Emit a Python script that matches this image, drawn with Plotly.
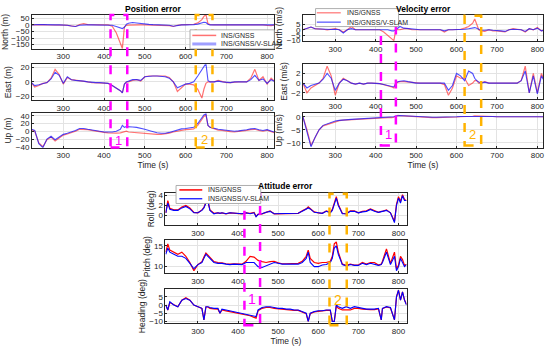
import plotly.graph_objects as go

# ---------------- data ----------------
t = [220, 230, 240, 250, 260, 270, 280, 290, 300, 310,
     320, 330, 340, 350, 360, 370, 380, 390, 400, 410,
     420, 430, 440, 445, 450, 455, 460, 470, 480, 490,
     500, 510, 520, 530, 540, 550, 560, 570, 580, 590,
     600, 610, 620, 630, 640, 645, 650, 655, 660, 670,
     680, 690, 700, 710, 720, 730, 740, 750, 760, 770,
     780, 790, 800, 810, 820]

pos_north_ins = [0, 2, 3, 2, 0, 0, 3, 0, -2, -3,
                 -5, -12, 3, 10, 2, 0, 0, 0, 0, 0,
                 -10, -60, -140, -180, -15, -3, -2, 0, 0, 0,
                 0, 0, 0, 0, 0, 0, -5, -12, -3, 0,
                 0, 2, 5, 15, 40, 65, 78, 10, 2, 0,
                 0, 0, 0, 2, 0, 0, 0, 3, 5, 0,
                 0, 0, -3, -5, 0]
pos_north_slam = [0, 3, 3, 2, 0, 0, 0, 0, 0, -3,
                  -8, -12, -3, 0, 0, 0, 0, 0, 0, 0,
                  -3, -12, -22, -28, -18, 5, 12, 18, 15, 10,
                  6, 4, 2, 0, 0, 0, -3, -10, -3, 0,
                  0, 0, 2, 6, 14, 20, 18, 5, 0, 0,
                  0, 0, 0, 0, 0, 0, 0, 0, 0, 0,
                  0, 0, 0, 0, 0]
pos_east_ins = [0, -7, -5, -2, -1, 5, 17, 10, -3, 6,
                3, 2, 2, 1, 0, -1, -1, -1, -1, -2,
                -5, -8, -12, -15, -3, 0, 0, 2, 3, 1,
                7, 8, 8, 8, 8, 8, 6, 0, -13, -8,
                -3, -3, -4, -10, -22, -10, -2, 0, 0, 0,
                2, 0, -1, -1, 0, 0, 0, 0, 5, 17,
                2, 7, -3, 5, 0]
pos_east_slam = [0, -5, -4, -2, -1, 4, 13, 9, -2, 7,
                 3, 2, 2, 1, 0, -1, -1, -1, -1, -2,
                 -5, -8, -12, -15, -3, 0, 1, 3, 3, 2,
                 7, 8, 8, 8, 8, 7, 5, 0, -8, -5,
                 -3, -2, 0, 8, 17, 22, 25, 2, 0, 0,
                 1, 0, -1, -1, 0, 0, 0, 0, 3, 9,
                 2, 4, -2, 3, 0]
pos_up_ins = [5, 0, -30, -40, -22, -15, -25, -18, -10, -7,
              -4, 0, 5, 5, 4, 2, 0, -1, -3, -4,
              -5, -5, -4, -2, 0, 0, -2, -3, -4, -5,
              -6, -7, -8, -8, -8, -7, -5, -2, 0, 3,
              4, 5, 6, 15, 30, 38, 42, 15, 10, 6,
              3, 2, 0, -1, -2, -1, 0, 2, 4, 5,
              2, 0, 3, -2, -5]
pos_up_slam = [6, 2, -32, -42, -20, -13, -22, -15, -8, -5,
               -2, 2, 7, 7, 5, 3, 1, -1, -2, -2,
               -2, 0, 5, 15, 10, 12, 12, 11, 10, 8,
               5, 2, -2, -4, -5, -5, -3, 0, 3, 6,
               7, 8, 10, 20, 35, 42, 45, 15, 10, 7,
               5, 4, 2, 1, 0, 1, 2, 4, 6, 7,
               4, 2, 4, 0, -3]

vel_north_ins = [0, 1, 2.5, 1, 1, 0.5, 0, 0.5, 1, 0,
                 -2, 0, 3, 0, 0, 0, 0, 0, 0, 0,
                 -2, -5, -8, -10, 0, 0, 0, 1, 1, 0,
                 0, 0, 0, 0, 0, 0, 0, -2, 0, 0,
                 0, 0.5, 1.5, 3, 6, 10, 5, 0, -1, -1.5,
                 0, -1, -1, -1.5, -2, 0, 1, 0.5, 0, -2,
                 1, 0, 2, -1, 0]
vel_north_slam = [0, 1, 2.5, 1, 0.8, 0.5, 0, 0.3, 0.5, 0,
                  -3, 0, 1, 0, 0, 0, 0, 0, 0, 0,
                  0, 0, -1, -1, 0, 2, 3, 1.5, 1, 0.5,
                  0, 0, 0, 0, 0, 0, 0, -1, 0, 0,
                  0, 0, 0.5, 1, 1.5, 2, 1.5, 0.5, -0.5, -0.5,
                  0, -0.5, -0.5, -1, -1.5, 0, 0.5, 0, 0, -1.5,
                  1, 0, 1.5, -1, 0]
vel_east_ins = [0, -2, -1, -0.5, 0, 1, 3.5, 1.5, -2.5, 0,
                1, 0.5, 0, -0.2, 0, -0.2, 0, 0, 0, -0.1,
                -0.3, -0.5, -0.8, -1, 0, 0.2, 0.3, 0.3, 0.2, 0.1,
                0, 0, 0, 0, 0, 0, 0, -0.3, -2.5, -1,
                1.5, 1, 1, -0.5, 0, 0.5, 0.5, 0, 0, 0.3,
                0, 0, 0, 0, 0, 0, 0, 0, 0.5, 3.5,
                -2, 2, -2, 2, 0]
vel_east_slam = [0, -1, -0.5, -0.3, 0, 0.8, 2, 1, -1.5, 0,
                 0.8, 0.5, 0, -0.2, 0, -0.2, 0, 0, 0, -0.1,
                 -0.3, -0.5, -0.8, -0.8, 0, 0.3, 0.4, 0.5, 0.3, 0.1,
                 0, 0, 0, 0, 0, 0, 0, 0, -1.5, -0.5,
                 2, 1.5, 0.5, 2.5, 2, 1, 0.5, 0.3, 0, 0.2,
                 0, 0, 0, 0, 0, 0, 0, 0, 0.5, 2.5,
                 -2, 1.5, -2.2, 1.5, 0]
vel_up_ins = [0, -5, -11, -8, -5, -3.5, -3, -2.2, -1.8, -1.5,
              -1.3, -1.2, -1, -1, -0.9, -0.8, -0.8, -0.7, -0.6, -0.5,
              -0.4, -0.3, -0.3, -0.2, 0.2, 0.5, 0.4, 0.3, 0.2, 0,
              -0.1, -0.2, -0.3, -0.3, -0.3, -0.3, -0.3, -0.3, -0.2, -0.2,
              -0.1, 0, 0, 0.1, 0.2, 0.3, 0.3, 0.2, 0.2, 0.3,
              0.2, 0.1, 0, 0, 0, 0, 0, 0, 0, -0.1,
              0, 0, -0.1, 0, 0]
vel_up_slam = [0, -5.5, -11.5, -8, -5, -3.3, -2.8, -2, -1.6, -1.4,
               -1.2, -1.1, -1, -0.9, -0.8, -0.8, -0.7, -0.6, -0.5, -0.4,
               -0.3, -0.2, -0.1, 0, 0.3, 0.5, 0.5, 0.4, 0.3, 0.1,
               0, -0.1, -0.2, -0.2, -0.2, -0.2, -0.2, -0.2, -0.1, -0.1,
               0, 0.1, 0.1, 0.2, 0.3, 0.3, 0.3, 0.2, 0.2, 0.2,
               0.1, 0.1, 0, 0, 0, 0, 0, 0, 0, 0,
               0, 0, 0, 0, 0]

t_att = [220, 225, 230, 240, 250, 260, 270, 280, 290, 300,
         310, 315, 320, 325, 330, 340, 350, 355, 360, 370,
         380, 390, 400, 410, 420, 430, 440, 445, 450, 460,
         470, 480, 490, 500, 510, 520, 530, 540, 550, 560,
         570, 575, 580, 590, 600, 610, 620, 630, 635, 640,
         645, 650, 660, 670, 680, 690, 700, 710, 720, 730,
         740, 750, 757, 760, 770, 780, 790, 795, 800, 805,
         810, 815, 820]

roll_ins = [0.5, 3.0, 1.4, 1.1, 1.1, 1.7, 2.0, 1.5, 0.6, 0.5,
            1.1, 1.6, 2.7, 3.0, 1.1, 0.4, 0.5, 0.4, 0.5, 0.3,
            0.5, 0.4, 0.3, 0.3, 0.5, 0.4, 0.6, -0.2, 0.2, 0.3,
            0.6, 0.9, 0.3, 0.3, 0.3, 0.3, 0.3, 0.3, 0.4, 0.9,
            1.3, 1.7, 1.4, 0.7, 0.5, 0.4, 0.9, 0.6, 1.2, 2.8,
            3.8, 2.2, 0.4, 0.3, 0.9, 0.9, 0.5, 0.8, 0.9, 1.3,
            0.9, 0.6, 0.8, 0.8, 1.1, 0.5, -1.2, 2.2, 3.8, 2.8,
            4.2, 3.2, 3.0]
roll_slam = [0.5, 2.5, 1.2, 1.0, 1.0, 1.5, 1.8, 1.3, 0.5, 0.5,
             1.0, 1.5, 2.5, 2.8, 1.0, 0.3, 0.5, 0.4, 0.5, 0.3,
             0.5, 0.4, 0.3, 0.3, 0.5, 0.3, 0.5, -0.3, 0.2, 0.3,
             0.6, 0.8, 0.3, 0.3, 0.3, 0.3, 0.3, 0.3, 0.4, 0.8,
             1.2, 1.5, 1.3, 0.6, 0.5, 0.4, 0.8, 0.5, 1.0, 2.5,
             3.5, 2.0, 0.3, 0.3, 0.8, 0.8, 0.5, 0.7, 0.8, 1.2,
             0.8, 0.6, 0.8, 0.8, 1.0, 0.5, -1.5, 2.0, 3.5, 2.5,
             4.0, 3.0, 3.0]
pitch_ins = [13.5, 15.5, 14, 13.5, 13, 13.5, 12.5, 11, 9, 10.5,
             11.2, 12.3, 13.3, 12.8, 12.3, 11.2, 11, 11, 10.9, 10.7,
             10.6, 10.7, 10.6, 10.6, 11.3, 12.5, 12.3, 11.8, 11.5, 11.2,
             11, 11.2, 11.3, 10.9, 10.7, 10.7, 10.7, 10.7, 10.8, 11.3,
             12.5, 14, 12, 11, 10.8, 11, 11, 11.3, 12.5, 15.5,
             16, 13.5, 10.6, 10.3, 10.6, 10.4, 10.4, 11, 10.6, 11,
             11, 10.4, 10.6, 11.3, 14.3, 10.8, 13.5, 9.5, 10.3, 12.5,
             11.7, 10.3, 10.6]
pitch_slam = [13, 14.5, 13.5, 13, 12.5, 12.5, 12, 10.8, 9.5, 10.5,
              11, 12, 13, 12.5, 12, 11, 10.8, 10.8, 10.8, 10.6,
              10.5, 10.6, 10.5, 10.5, 11, 11, 11, 10.5, 10, 9.8,
              10.2, 10.5, 11, 10.8, 10.6, 10.6, 10.6, 10.6, 10.6, 11,
              12, 13.5, 11, 10, 10, 10.4, 10.5, 11, 12, 14.5,
              15, 13, 10.5, 10.2, 10.5, 10.3, 10.3, 10.8, 10.5, 10.8,
              10.5, 10.3, 10.5, 11, 13.5, 10.5, 12.5, 9, 10, 12,
              11, 10, 10.5]
heading_ins = [0, -3, 1.5, 0, -1, 3, 4.5, 3, 0, -1,
               -2, -9, -1.2, -1.2, -2, -2.3, -2.5, -5, -3, -3.5,
               -4, -4.5, -5, -5.5, -6, -6.5, -7.5, -8, -3.5, -2,
               -1.5, -1.5, -2, -2.3, -2.5, -2.8, -3, -3.2, -3.3, -4.2,
               -5.2, -10, -5.2, -4.2, -3.8, -3.8, -3.3, -3.3, -10, -10,
               -0.5, -2, -3, -3, -3, -2, -2, -2.5, -2.8, -2.8,
               -2.8, -2.3, -9, -2.2, -1.2, -1.8, -9, 5, 9, 3,
               8, 3, 0.5]
heading_slam = [0, -3, 2, 0, -1, 3, 4, 3, 0, -1,
                -2, -9, -1, -1, -1.5, -2, -2, -5, -2.5, -3,
                -3.5, -4, -4.5, -5, -5.5, -6, -6.5, -7, -3, -1.5,
                -1, -1, -1.5, -2, -2, -2.5, -2.5, -3, -3, -4,
                -5, -10, -5, -4, -3.5, -3.5, -3, -3, -10, -10,
                0, -1, -2, -1, -2, -1, -1.5, -2, -2.5, -2.5,
                -2.5, -2, -9, -2, -1, -1.5, -9, 5, 9, 3,
                8, 3, 0]

names = ["INS/GNSS", "INS/GNSS/V-SLAM"]
x_ticks = [300, 400, 500, 600, 700, 800]

# ---------------- layout helpers ----------------
W, H = 550, 350
def px(x):
    return x / W
def py(y):
    return 1 - y / H
def xd(a, b):
    return [px(a), px(b)]
def yd(top, bot):
    return [py(bot), py(top)]

FONT = "Arial"
TICKC = "#262626"

panels = [
    (1, xd(32, 275), yd(13.3, 47.7), [-183, 75], [-150, -100, -50, 0, 50], "North (m)", [223, 817], False, t, pos_north_ins, pos_north_slam),
    (2, xd(32, 275), yd(63.3, 100), [-25, 24], [-20, 0, 20], "East (m)", [223, 817], False, t, pos_east_ins, pos_east_slam),
    (3, xd(32, 275), yd(113.3, 148.3), [-42.5, 46], [-40, -20, 0, 20, 40], "Up (m)", [223, 817], True, t, pos_up_ins, pos_up_slam),
    (4, xd(304, 545), yd(13.3, 40), [-10.6, 13.5], [-10, -5, 0, 5], "North (m/s)", [220, 814], False, t, vel_north_ins, vel_north_slam),
    (5, xd(304, 545), yd(63.3, 98.3), [-3.2, 3.9], [-2, 0, 2], "East (m/s)", [220, 814], False, t, vel_east_ins, vel_east_slam),
    (6, xd(304, 545), yd(113.3, 148.3), [-11.9, 1.3], [-10, -5, 0], "Up (m/s)", [220, 814], True, t, vel_up_ins, vel_up_slam),
    (7, xd(166, 408), yd(194, 227), [-2, 4.6], [0, 2, 4], "Roll (deg)", [219, 820], False, t_att, roll_ins, roll_slam),
    (8, xd(166, 408), yd(242.3, 276), [8.4, 16.4], [10, 15], "Pitch (deg)", [219, 820], False, t_att, pitch_ins, pitch_slam),
    (9, xd(166, 408), yd(292.3, 326.7), [-11, 9.6], [-10, -5, 0, 5], "Heading (deg)", [219, 820], True, t_att, heading_ins, heading_slam),
]

RED_PV = "rgba(255,20,20,0.6)"
BLUE_PV = "rgba(20,20,255,0.75)"
RED_A = "rgb(255,0,0)"
BLUE_A = "rgb(0,0,255)"

fig = go.Figure()
layout = {}
for (i, xdom, ydom, yr, yt, ytitle, xr, ttitle, tt, s_ins, s_slam) in panels:
    sfx = "" if i == 1 else str(i)
    att = i >= 7
    red = RED_A if att else RED_PV
    blue = BLUE_A if att else BLUE_PV
    fig.add_trace(go.Scatter(x=tt, y=s_ins, mode="lines", name=names[0],
                             line=dict(color=red, width=1.2), xaxis="x" + sfx, yaxis="y" + sfx,
                             showlegend=False))
    fig.add_trace(go.Scatter(x=tt, y=s_slam, mode="lines", name=names[1],
                             line=dict(color=blue, width=1.1), xaxis="x" + sfx, yaxis="y" + sfx,
                             showlegend=False))
    common = dict(showline=True, linecolor=TICKC, linewidth=0.8, mirror=True,
                  ticks="inside", ticklen=2, tickcolor=TICKC, showgrid=True,
                  gridcolor="#e3e3e3", gridwidth=0.6, zeroline=False,
                  tickfont=dict(family=FONT, size=8, color=TICKC))
    layout["xaxis" + sfx] = dict(domain=xdom, anchor="y" + sfx, range=xr, tickvals=x_ticks,
                                 title=dict(text="Time (s)" if ttitle else "",
                                            font=dict(family=FONT, size=8.5, color=TICKC), standoff=2),
                                 **common)
    layout["yaxis" + sfx] = dict(domain=ydom, anchor="x" + sfx, range=yr, tickvals=yt,
                                 title=dict(text=ytitle, font=dict(family=FONT, size=8.5, color=TICKC), standoff=2),
                                 **common)

fig.update_layout(width=W, height=H, margin=dict(l=0, r=0, t=0, b=0), showlegend=False,
                  paper_bgcolor="white", plot_bgcolor="white", **layout)

# titles
for txt, xc, yc in [("Position error", 153.6, 7), ("Velocity error", 424.8, 7.3), ("Attitude error", 287, 187)]:
    fig.add_annotation(text="<b>%s</b>" % txt, x=px(xc), y=py(yc), xref="paper", yref="paper",
                       showarrow=False, font=dict(family=FONT, size=8.5, color="black"),
                       xanchor="center", yanchor="middle")

# dashed highlight boxes
MAG = "#FF00FF"
ORA = "#FFB300"
boxes = [
    ("x3", 416, 457, 13.3, 148, MAG, "1", 141, 13),
    ("x3", 625, 666, 13.3, 148, ORA, "2", 140, 13),
    ("x6", 413, 450, 14, 146, MAG, "1", 135, 13),
    ("x6", 620, 661, 14, 146, ORA, "2", 135, 13),
    ("x9", 416, 455, 195, 329, MAG, "1", 302, 14),
    ("x9", 628, 671, 195, 329, ORA, "2", 303, 14),
]
for xr_, x0, x1, ytop, ybot, col, lab, ylab, fs in boxes:
    fig.add_shape(type="rect", xref=xr_, yref="paper", x0=x0, x1=x1,
                  y0=py(ybot), y1=py(ytop),
                  line=dict(color=col, width=2.5, dash="dash"), layer="above")
    fig.add_annotation(text=lab, x=(x0 + x1) / 2, y=py(ylab), xref=xr_, yref="paper",
                       showarrow=False, font=dict(family=FONT, size=fs, color=col),
                       xanchor="center", yanchor="middle")

# hand-built legends (box, line samples, labels)
legends = [
    ((190.7, 275.3, 28.3, 47.7), (193, 217), 220, (34, 42.7), (RED_PV, "rgba(80,80,255,0.55)"), (1.5, 3)),
    ((316.7, 400, 6.7, 25), (318, 342), 346, (11, 20.5), (RED_PV, BLUE_PV), (1.2, 1.2)),
    ((176.7, 261.7, 186.7, 205), (180, 203), 207, (191.2, 200.2), (RED_A, BLUE_A), (1.5, 1.2)),
]
for (bx0, bx1, by0, by1), (lx0, lx1), tx, rows, cols, wds in legends:
    fig.add_shape(type="rect", xref="paper", yref="paper", x0=px(bx0), x1=px(bx1),
                  y0=py(by1), y1=py(by0), line=dict(color="#9a9a9a", width=0.8),
                  fillcolor="white", layer="above")
    for ry, c, w, nm in zip(rows, cols, wds, names):
        fig.add_shape(type="line", xref="paper", yref="paper", x0=px(lx0), x1=px(lx1),
                      y0=py(ry), y1=py(ry), line=dict(color=c, width=w), layer="above")
        fig.add_annotation(text=nm, x=px(tx), y=py(ry), xref="paper", yref="paper",
                           showarrow=False, font=dict(family=FONT, size=7, color=TICKC),
                           xanchor="left", yanchor="middle")

fig.write_html("out.html", config={"displayModeBar": False},
               post_script="document.body.style.margin='0';document.body.style.overflow='hidden';")
